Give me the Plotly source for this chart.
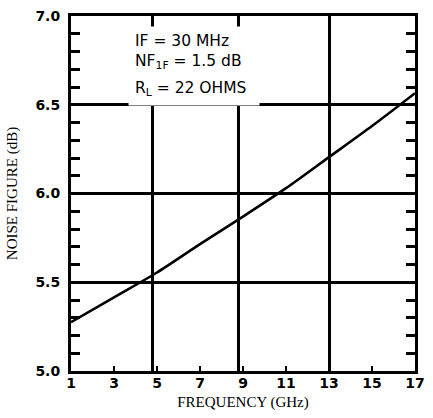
import plotly.graph_objects as go

freq_ghz = [1, 3, 5, 7, 9, 11, 13, 15, 17]
noise_figure_db = [5.275, 5.415, 5.555, 5.715, 5.87, 6.03, 6.205, 6.38, 6.565]

x_grid_vals = [4.8, 8.8, 13]
legend_lines = ["IF = 30 MHz", "NF<sub>1F</sub> = 1.5 dB", "R<sub>L</sub> = 22 OHMS"]

fig = go.Figure()
fig.add_trace(go.Scatter(x=freq_ghz, y=noise_figure_db, mode="lines",
                         line=dict(color="black", width=2.6, shape="spline", smoothing=0.8),
                         showlegend=False, hoverinfo="skip"))
# invisible trace for secondary axes (gridlines / minor ticks)
fig.add_trace(go.Scatter(x=[1, 17], y=[5, 5], xaxis="x2", yaxis="y2", mode="lines",
                         line=dict(width=0), showlegend=False, hoverinfo="skip"))

tickfont = dict(family="DejaVu Sans", size=14, color="black", weight="bold")
titlefont = dict(family="Liberation Serif", size=15, color="black")

x0, y0 = 71, 13
px_per_x = (425 - 71) / 16.0
px_per_y = (371 - 13) / 2.0


def dx(px):
    return 1 + (px - x0) / px_per_x


def dy(py):
    return 7 - (py - y0) / px_per_y


annotations = [dict(x=dx(130), y=dy(23), xref="x", yref="y", xanchor="left", yanchor="top",
                    text=" ", width=130, height=78, showarrow=False, bgcolor="white",
                    borderpad=0, font=dict(size=4))]
line_y = [38, 59, 87]
for txt, py in zip(legend_lines, line_y):
    annotations.append(dict(
        x=dx(136), y=dy(py), xref="x", yref="y", xanchor="left", yanchor="middle",
        text=txt, align="left", showarrow=False, borderpad=0,
        font=dict(family="DejaVu Sans", size=15.5, color="black")))

fig.update_layout(
    width=433, height=418,
    margin=dict(l=71, r=8, t=13, b=47),
    paper_bgcolor="white", plot_bgcolor="white",
    xaxis=dict(range=[1, 17], tickmode="linear", tick0=1, dtick=2,
               showgrid=False, zeroline=False,
               showline=True, linecolor="black", linewidth=3, mirror=True,
               ticks="inside", ticklen=5, tickwidth=2, tickcolor="black",
               tickfont=tickfont, ticklabelstandoff=-3,
               title=dict(text="FREQUENCY (GHz)", font=titlefont, standoff=7)),
    xaxis2=dict(range=[1, 17], overlaying="x", tickvals=x_grid_vals,
                showticklabels=False, showgrid=True, gridcolor="black", gridwidth=2.5,
                zeroline=False, showline=False, ticks=""),
    yaxis=dict(range=[5.0, 7.0], tickmode="linear", tick0=5.0, dtick=0.5, tickformat=".1f",
               showgrid=True, gridcolor="black", gridwidth=2.5, zeroline=False,
               showline=True, linecolor="black", linewidth=3, mirror=True,
               ticks="", tickfont=tickfont, ticklabelstandoff=5,
               title=dict(text="NOISE FIGURE (dB)", font=titlefont, standoff=15)),
    yaxis2=dict(range=[5.0, 7.0], overlaying="y", tickmode="linear", tick0=5.0, dtick=0.1,
                showticklabels=False, showgrid=False, zeroline=False,
                showline=False, mirror="ticks",
                ticks="inside", ticklen=9, tickwidth=2.5, tickcolor="black"),
    annotations=annotations,
)

fig.write_html("out.html")
